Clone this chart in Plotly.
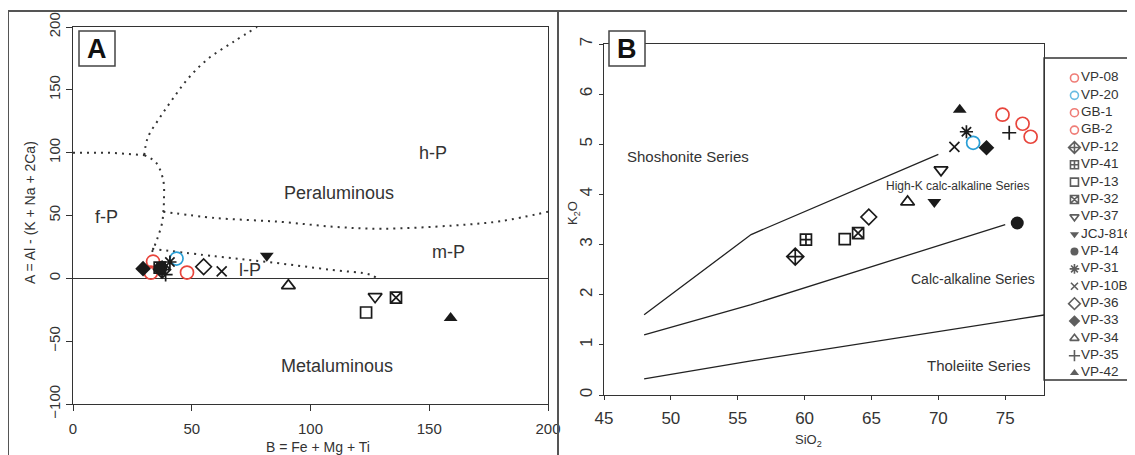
import plotly.graph_objects as go

W, H = 1135, 455
OFF = 8  # page body margin that the browser adds around the figure

# ---------------- data ----------------
names = ["VP-08", "VP-20", "GB-1", "GB-2", "VP-12", "VP-41", "VP-13", "VP-32", "VP-37",
         "JCJ-816", "VP-14", "VP-31", "VP-10B", "VP-36", "VP-33", "VP-34", "VP-35", "VP-42"]

# Panel A : B = Fe + Mg + Ti  vs  A = Al - (K + Na + 2Ca)
a_B = [33.7, 43.6, 32.8, 48.0, 37.5, 36.5, 123.4, 136.0, 127.2,
       81.6, 37.0, 40.8, 62.6, 55.0, 29.5, 90.7, 39.0, 159.0]
a_A = [13.3, 15.7, 4.5, 4.6, 7.0, 8.5, -27.2, -15.4, -14.6,
       18.0, 8.5, 13.0, 5.5, 9.2, 7.7, -5.8, 3.0, -31.5]

# Panel B : SiO2 vs K2O
b_SiO2 = [74.8, 72.6, 76.3, 76.9, 59.3, 60.1, 63.0, 64.0, 70.2,
          69.7, 75.9, 72.1, 71.2, 64.8, 73.6, 67.7, 75.3, 71.6]
b_K2O = [5.59, 5.03, 5.41, 5.15, 2.76, 3.10, 3.11, 3.23, 4.49,
         3.85, 3.43, 5.25, 4.95, 3.55, 4.93, 3.85, 5.23, 5.69]

# Panel A field boundaries (dotted)
fp_line_x = [0, 15, 30]
fp_line_y = [100, 100, 98]
hp_curve_x = [30, 31.5, 36.6, 41.7, 48, 56.4, 67.4, 77.5]
hp_curve_y = [98, 112, 128, 142, 158, 174, 188, 200]
fp_curve_x = [30, 35, 38, 38.3, 38, 37.5, 35.4, 33.3]
fp_curve_y = [98, 92, 78, 62, 52, 44, 31, 21]
mp_curve_x = [38, 60, 87, 110, 130, 160, 180, 200]
mp_curve_y = [53, 48, 45, 41, 39.5, 42, 45.5, 53]
lp_curve_x = [33.3, 60, 82, 108, 125, 128]
lp_curve_y = [23.5, 17.5, 13, 6.9, 3, 0]

# Panel B series boundaries (solid)
sho_x = [48, 56, 70]
sho_y = [1.6, 3.2, 4.8]
hik_x = [48, 56, 75]
hik_y = [1.2, 1.8, 3.4]
tho_x = [48, 56, 78]
tho_y = [0.32, 0.68, 1.6]

# ---------------- styles ----------------
RED = "#e8453c"
CYAN = "#2a9fd6"
BLK = "#1a1a1a"
TXT = "#333333"
REG = "Liberation Sans, Arial, sans-serif"

symbols = ["circle-open", "circle-open", "circle-open", "circle-open", "diamond-cross-open",
           "square-cross-open", "square-open", "square-x-open", "triangle-down-open",
           "triangle-down", "circle", "asterisk-open", "x-thin-open", "diamond-open",
           "diamond", "triangle-up-open", "cross-thin-open", "triangle-up"]
colors = [RED, CYAN, RED, RED] + [BLK] * 14
sizes = [13, 13, 13, 13, 13, 11, 11, 11, 12, 12, 13, 11, 10, 12, 12, 12, 10, 12]
leg_sizes = [8, 8, 8, 8, 9, 8, 8, 8, 8, 8, 8, 8, 7, 9, 9, 8, 8, 8]
line_w = [1.7 if "open" in s else 0 for s in symbols]

fig = go.Figure()

# boundary lines panel A
dot = dict(color="#333333", width=2, dash="2px,5px")
for xs, ys, shp in [(fp_line_x, fp_line_y, "linear"), (hp_curve_x, hp_curve_y, "spline"),
                    (fp_curve_x, fp_curve_y, "spline"), (mp_curve_x, mp_curve_y, "spline"),
                    (lp_curve_x, lp_curve_y, "spline")]:
    fig.add_trace(go.Scatter(x=xs, y=ys, mode="lines", line=dict(dot, shape=shp),
                             xaxis="x", yaxis="y", showlegend=False, hoverinfo="skip"))

# boundary lines panel B
for xs, ys in [(sho_x, sho_y), (hik_x, hik_y), (tho_x, tho_y)]:
    fig.add_trace(go.Scatter(x=xs, y=ys, mode="lines", line=dict(color="#222222", width=1.3),
                             xaxis="x2", yaxis="y2", showlegend=False, hoverinfo="skip"))

# sample points
for i, n in enumerate(names):
    mk = dict(symbol=symbols[i], size=sizes[i], color=colors[i],
              line=dict(color=colors[i], width=line_w[i]))
    fig.add_trace(go.Scatter(x=[a_B[i]], y=[a_A[i]], mode="markers", marker=mk, name=n,
                             xaxis="x", yaxis="y", showlegend=False))
    fig.add_trace(go.Scatter(x=[b_SiO2[i]], y=[b_K2O[i]], mode="markers", marker=mk, name=n,
                             xaxis="x2", yaxis="y2", showlegend=False))

# custom legend (drawn on its own axes): symbols column and names column
leg_rows = list(range(len(names)))
fig.add_trace(go.Scatter(
    x=[28] * len(names), y=leg_rows, mode="markers",
    marker=dict(symbol=symbols, size=leg_sizes, color=colors,
                line=dict(color=colors, width=[1.6 if w else 0 for w in line_w])),
    xaxis="x3", yaxis="y3", showlegend=False, hoverinfo="skip", cliponaxis=False))
fig.add_trace(go.Scatter(
    x=[34] * len(names), y=leg_rows, mode="text", text=names, textposition="middle right",
    textfont=dict(family=REG, size=13.5, color=TXT),
    xaxis="x3", yaxis="y3", showlegend=False, hoverinfo="skip", cliponaxis=False))


def px(x):
    return (x - OFF) / W


def py(y):
    return 1 - (y - OFF) / H


axA = dict(showline=True, mirror=True, linecolor="#333333", linewidth=1.3, ticks="outside",
           ticklen=6, tickcolor="#333333", showgrid=False, zeroline=False, automargin=False,
           tickfont=dict(family=REG, size=15, color=TXT))
axB = dict(showline=True, mirror=True, linecolor="#333333", linewidth=1.3, ticks="outside",
           ticklen=4, tickcolor="#333333", showgrid=False, zeroline=False, automargin=False,
           tickfont=dict(family=REG, size=17, color=TXT))

fig.update_layout(
    width=W, height=H, margin=dict(l=0, r=0, t=0, b=0, pad=0, autoexpand=False),
    paper_bgcolor="white", plot_bgcolor="white", showlegend=False,
    xaxis=dict(axA, domain=[px(73), px(548)], range=[0, 200], tickvals=[0, 50, 100, 150, 200],
               anchor="y", ticklabelstandoff=5),
    yaxis=dict(axA, domain=[py(404), py(27)], range=[-100, 200],
               tickvals=[-100, -50, 0, 50, 100, 150, 200], tickangle=-90, anchor="x",
               zeroline=True, zerolinecolor="#333333", zerolinewidth=1.3),
    xaxis2=dict(axB, domain=[px(604), px(1044)], range=[45, 77.9],
                tickvals=[45, 50, 55, 60, 65, 70, 75], anchor="y2", ticklabelstandoff=3),
    yaxis2=dict(axB, domain=[py(395), py(44)], range=[0, 7], dtick=1, tickangle=-90,
                anchor="x2"),
    xaxis3=dict(domain=[px(1044), 1], range=[0, 91], visible=False, anchor="y3", automargin=False),
    yaxis3=dict(domain=[py(380), py(58)], range=[17.4, -1.153], visible=False, anchor="x3",
                automargin=False),
)

shapes = []
frame = dict(color="#555555", width=2)
shapes.append(dict(type="line", xref="paper", yref="paper", x0=px(8), x1=1, y0=py(11), y1=py(11), line=frame))
shapes.append(dict(type="line", xref="paper", yref="paper", x0=px(8), x1=px(8), y0=0, y1=py(11), line=frame))
shapes.append(dict(type="line", xref="paper", yref="paper", x0=px(558), x1=px(558), y0=0, y1=py(11), line=frame))
# legend box
shapes.append(dict(type="rect", xref="paper", yref="paper", x0=px(1044), x1=1.01, y0=py(380), y1=py(58),
                   line=dict(color="#333333", width=1.3), fillcolor="white", layer="below"))
# panel letter boxes
for x0 in (79, 609):
    shapes.append(dict(type="rect", xref="paper", yref="paper", x0=px(x0), x1=px(x0 + 36),
                       y0=py(66), y1=py(31), line=dict(color="#444444", width=1.5),
                       fillcolor="white", layer="above"))
fig.update_layout(shapes=shapes)

C = dict(xanchor="center", yanchor="middle", showarrow=False)
ann = []
ann.append(dict(C, text="<b>A</b>", xref="paper", yref="paper", x=px(97), y=py(49),
                font=dict(family=REG, size=27, color="#111111")))
ann.append(dict(C, text="<b>B</b>", xref="paper", yref="paper", x=px(627), y=py(49),
                font=dict(family=REG, size=27, color="#111111")))
for t, x, y in [("h-P", 151.5, 100), ("Peraluminous", 112, 68), ("f-P", 14, 49),
                ("l-P", 74.5, 7), ("m-P", 158, 21), ("Metaluminous", 111, -70)]:
    ann.append(dict(C, text=t, x=x, y=y, xref="x", yref="y",
                    font=dict(family=REG, size=18, color=TXT)))
for t, x, y, s in [("Shoshonite Series", 51.3, 4.75, 15), ("High-K calc-alkaline Series", 71.4, 4.17, 12),
                   ("Calc-alkaline Series", 72.6, 2.32, 14), ("Tholeiite Series", 73.0, 0.58, 15)]:
    ann.append(dict(C, text=t, x=x, y=y, xref="x2", yref="y2",
                    font=dict(family=REG, size=s, color=TXT)))
# axis titles
ann.append(dict(C, text="A = Al - (K + Na + 2Ca)", xref="paper", yref="paper", x=px(30), y=py(213),
                textangle=-90, font=dict(family=REG, size=14, color=TXT)))
ann.append(dict(C, text="B = Fe + Mg + Ti", xref="paper", yref="paper", x=px(318), y=py(447),
                font=dict(family=REG, size=14, color=TXT)))
ann.append(dict(C, text="SiO<sub>2</sub>", xref="paper", yref="paper", x=px(808), y=py(440),
                font=dict(family=REG, size=13, color=TXT)))
ann.append(dict(C, text="K<sub>2</sub>O", xref="paper", yref="paper", x=px(574), y=py(213),
                textangle=-90, font=dict(family=REG, size=13, color=TXT)))
fig.update_layout(annotations=ann)

fig.write_html("out.html")
